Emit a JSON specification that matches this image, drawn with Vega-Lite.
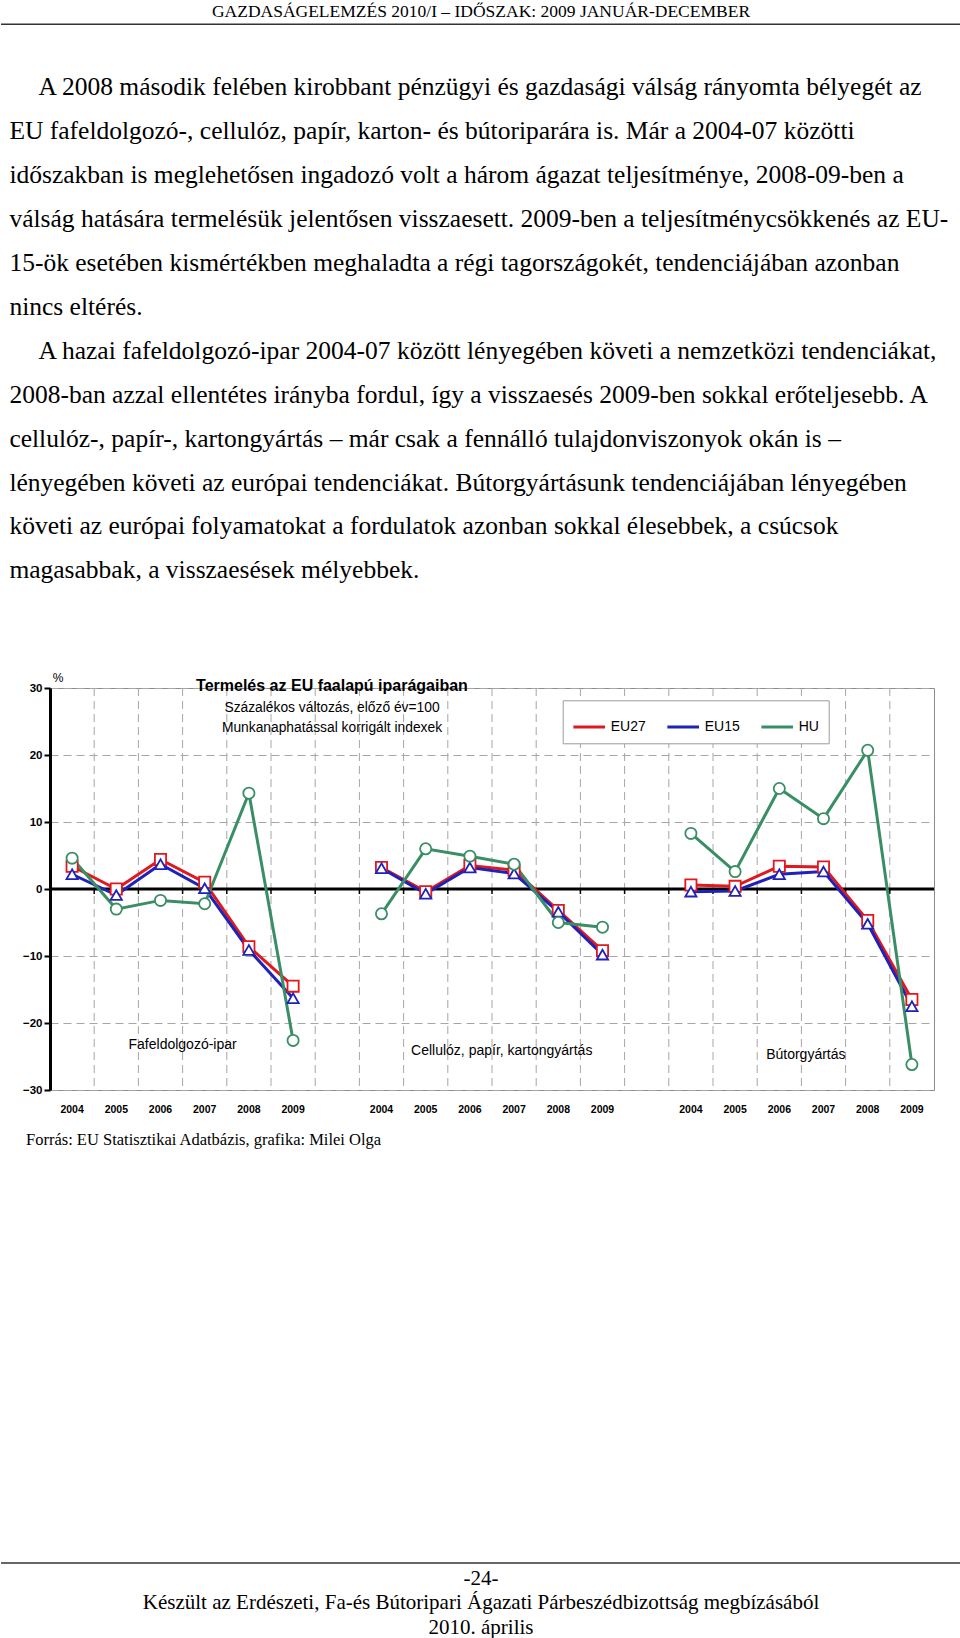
{
  "$schema": "https://vega.github.io/schema/vega-lite/v6.json",
  "padding": 0,
  "background": "white",
  "spacing": 0,
  "resolve": {"scale": {"color": "independent"}, "legend": {"color": "independent"}},
  "config": {"view": {"stroke": null}},
  "datasets": {
    "body": [
      {"line": 1, "indent": 1, "text": "A 2008 második felében kirobbant pénzügyi és gazdasági válság rányomta bélyegét az"},
      {"line": 2, "indent": 0, "text": "EU fafeldolgozó-, cellulóz, papír, karton- és bútoriparára is. Már a 2004-07 közötti"},
      {"line": 3, "indent": 0, "text": "időszakban is meglehetősen ingadozó volt a három ágazat teljesítménye, 2008-09-ben a"},
      {"line": 4, "indent": 0, "text": "válság hatására termelésük jelentősen visszaesett. 2009-ben a teljesítménycsökkenés az EU-"},
      {"line": 5, "indent": 0, "text": "15-ök esetében kismértékben meghaladta a régi tagországokét, tendenciájában azonban"},
      {"line": 6, "indent": 0, "text": "nincs eltérés."},
      {"line": 7, "indent": 1, "text": "A hazai fafeldolgozó-ipar 2004-07 között lényegében követi a nemzetközi tendenciákat,"},
      {"line": 8, "indent": 0, "text": "2008-ban azzal ellentétes irányba fordul, így a visszaesés 2009-ben sokkal erőteljesebb. A"},
      {"line": 9, "indent": 0, "text": "cellulóz-, papír-, kartongyártás – már csak a fennálló tulajdonviszonyok okán is –"},
      {"line": 10, "indent": 0, "text": "lényegében követi az európai tendenciákat. Bútorgyártásunk tendenciájában lényegében"},
      {"line": 11, "indent": 0, "text": "követi az európai folyamatokat a fordulatok azonban sokkal élesebbek, a csúcsok"},
      {"line": 12, "indent": 0, "text": "magasabbak, a visszaesések mélyebbek."}
    ],
    "footer": [
      {"line": 1, "text": "-24-"},
      {"line": 2, "text": "Készült az Erdészeti, Fa-és Bútoripari Ágazati Párbeszédbizottság megbízásából"},
      {"line": 3, "text": "2010. április"}
    ],
    "cats": [
      {"cat": "a2005"}, {"cat": "a2006"}, {"cat": "a2007"}, {"cat": "a2008"}, {"cat": "a2009"}, {"cat": "g1"},
      {"cat": "b2004"}, {"cat": "b2005"}, {"cat": "b2006"}, {"cat": "b2007"}, {"cat": "b2008"}, {"cat": "b2009"}, {"cat": "g2"},
      {"cat": "c2004"}, {"cat": "c2005"}, {"cat": "c2006"}, {"cat": "c2007"}, {"cat": "c2008"}, {"cat": "c2009"}
    ],
    "series": [
      {"grp": "a", "cat": "a2004", "series": "EU27", "value": 3.4},
      {"grp": "a", "cat": "a2005", "series": "EU27", "value": 0.0},
      {"grp": "a", "cat": "a2006", "series": "EU27", "value": 4.4},
      {"grp": "a", "cat": "a2007", "series": "EU27", "value": 1.0},
      {"grp": "a", "cat": "a2008", "series": "EU27", "value": -8.6},
      {"grp": "a", "cat": "a2009", "series": "EU27", "value": -14.5},
      {"grp": "b", "cat": "b2004", "series": "EU27", "value": 3.2},
      {"grp": "b", "cat": "b2005", "series": "EU27", "value": -0.4},
      {"grp": "b", "cat": "b2006", "series": "EU27", "value": 3.5},
      {"grp": "b", "cat": "b2007", "series": "EU27", "value": 2.8},
      {"grp": "b", "cat": "b2008", "series": "EU27", "value": -3.2},
      {"grp": "b", "cat": "b2009", "series": "EU27", "value": -9.2},
      {"grp": "c", "cat": "c2004", "series": "EU27", "value": 0.6},
      {"grp": "c", "cat": "c2005", "series": "EU27", "value": 0.4},
      {"grp": "c", "cat": "c2006", "series": "EU27", "value": 3.4},
      {"grp": "c", "cat": "c2007", "series": "EU27", "value": 3.3},
      {"grp": "c", "cat": "c2008", "series": "EU27", "value": -4.7},
      {"grp": "c", "cat": "c2009", "series": "EU27", "value": -16.5},
      {"grp": "a", "cat": "a2004", "series": "EU15", "value": 2.2},
      {"grp": "a", "cat": "a2005", "series": "EU15", "value": -0.9},
      {"grp": "a", "cat": "a2006", "series": "EU15", "value": 3.7},
      {"grp": "a", "cat": "a2007", "series": "EU15", "value": 0.1},
      {"grp": "a", "cat": "a2008", "series": "EU15", "value": -9.1},
      {"grp": "a", "cat": "a2009", "series": "EU15", "value": -16.3},
      {"grp": "b", "cat": "b2004", "series": "EU15", "value": 3.1},
      {"grp": "b", "cat": "b2005", "series": "EU15", "value": -0.7},
      {"grp": "b", "cat": "b2006", "series": "EU15", "value": 3.2},
      {"grp": "b", "cat": "b2007", "series": "EU15", "value": 2.3},
      {"grp": "b", "cat": "b2008", "series": "EU15", "value": -3.4},
      {"grp": "b", "cat": "b2009", "series": "EU15", "value": -9.8},
      {"grp": "c", "cat": "c2004", "series": "EU15", "value": -0.4},
      {"grp": "c", "cat": "c2005", "series": "EU15", "value": -0.3},
      {"grp": "c", "cat": "c2006", "series": "EU15", "value": 2.2},
      {"grp": "c", "cat": "c2007", "series": "EU15", "value": 2.6},
      {"grp": "c", "cat": "c2008", "series": "EU15", "value": -5.2},
      {"grp": "c", "cat": "c2009", "series": "EU15", "value": -17.5},
      {"grp": "a", "cat": "a2004", "series": "HU", "value": 4.6},
      {"grp": "a", "cat": "a2005", "series": "HU", "value": -3.0},
      {"grp": "a", "cat": "a2006", "series": "HU", "value": -1.7},
      {"grp": "a", "cat": "a2007", "series": "HU", "value": -2.2},
      {"grp": "a", "cat": "a2008", "series": "HU", "value": 14.3},
      {"grp": "a", "cat": "a2009", "series": "HU", "value": -22.6},
      {"grp": "b", "cat": "b2004", "series": "HU", "value": -3.7},
      {"grp": "b", "cat": "b2005", "series": "HU", "value": 6.0},
      {"grp": "b", "cat": "b2006", "series": "HU", "value": 4.9},
      {"grp": "b", "cat": "b2007", "series": "HU", "value": 3.7},
      {"grp": "b", "cat": "b2008", "series": "HU", "value": -5.0},
      {"grp": "b", "cat": "b2009", "series": "HU", "value": -5.7},
      {"grp": "c", "cat": "c2004", "series": "HU", "value": 8.3},
      {"grp": "c", "cat": "c2005", "series": "HU", "value": 2.6},
      {"grp": "c", "cat": "c2006", "series": "HU", "value": 15.0},
      {"grp": "c", "cat": "c2007", "series": "HU", "value": 10.5},
      {"grp": "c", "cat": "c2008", "series": "HU", "value": 20.7},
      {"grp": "c", "cat": "c2009", "series": "HU", "value": -26.2}
    ]
  },
  "vconcat": [
    {
      "width": 911,
      "height": 671,
      "layer": [
        {
          "data": {"values": [{"t": "GAZDASÁGELEMZÉS 2010/I – IDŐSZAK: 2009 JANUÁR-DECEMBER"}]},
          "mark": {"type": "text", "font": "Liberation Serif", "fontSize": 17.5, "align": "center", "baseline": "alphabetic", "color": "#000"},
          "encoding": {
            "x": {"datum": 0.4731, "type": "quantitative", "scale": {"domain": [0, 1]}, "axis": null},
            "y": {"datum": -0.768, "type": "quantitative", "scale": {"domain": [-1.1615, 14.106], "reverse": true, "nice": false, "zero": false}, "axis": null},
            "text": {"field": "t"}
          }
        },
        {
          "data": {"values": [{"k": 1}]},
          "mark": {"type": "rule", "color": "#333", "strokeWidth": 1.5},
          "encoding": {
            "x": {"datum": -0.05379, "type": "quantitative", "axis": null},
            "x2": {"datum": 1.0},
            "y": {"datum": -0.6086, "type": "quantitative", "axis": null}
          }
        },
        {
          "data": {"name": "body"},
          "transform": [{"filter": "datum.indent == 1"}],
          "mark": {"type": "text", "font": "Liberation Serif", "fontSize": 25.5, "align": "left", "baseline": "alphabetic", "color": "#000"},
          "encoding": {
            "x": {"datum": -0.01251, "type": "quantitative", "axis": null},
            "y": {"field": "line", "type": "quantitative", "axis": null},
            "text": {"field": "text"}
          }
        },
        {
          "data": {"name": "body"},
          "transform": [{"filter": "datum.indent == 0"}],
          "mark": {"type": "text", "font": "Liberation Serif", "fontSize": 25.5, "align": "left", "baseline": "alphabetic", "color": "#000"},
          "encoding": {
            "x": {"datum": -0.04457, "type": "quantitative", "axis": null},
            "y": {"field": "line", "type": "quantitative", "axis": null},
            "text": {"field": "text"}
          }
        }
      ]
    },
    {
      "width": 884,
      "height": 402,
      "view": {"stroke": "#8c8c8c", "strokeWidth": 1},
      "layer": [
        {
          "data": {"name": "cats"},
          "mark": {"type": "rule", "color": "#a6a6a6", "strokeWidth": 1, "strokeDash": [8, 5]},
          "encoding": {
            "x": {
              "field": "cat", "type": "nominal", "bandPosition": 0,
              "scale": {"type": "band", "domain": ["a2004","a2005","a2006","a2007","a2008","a2009","g1","b2004","b2005","b2006","b2007","b2008","b2009","g2","c2004","c2005","c2006","c2007","c2008","c2009"], "paddingInner": 0, "paddingOuter": 0},
              "axis": {"orient": "bottom", "title": null, "labelExpr": "length(datum.value) == 5 ? slice(datum.value, 1) : ''", "labelAngle": 0, "labelFont": "Liberation Sans", "labelFontSize": 10.5, "labelFontWeight": "bold", "labelColor": "#000", "labelPadding": 14, "ticks": false, "domain": false, "grid": false, "minExtent": 30, "maxExtent": 30}
            }
          }
        },
        {
          "data": {"name": "cats"},
          "mark": {"type": "rule", "color": "#000", "strokeWidth": 1.5},
          "encoding": {
            "x": {"field": "cat", "type": "nominal", "bandPosition": 0},
            "y": {"datum": 0, "type": "quantitative"},
            "y2": {"datum": -0.75}
          }
        },
        {
          "data": {"values": [{"k": 0}]},
          "mark": {"type": "rule", "color": "#000", "strokeWidth": 3},
          "encoding": {
            "y": {
              "datum": 0, "type": "quantitative",
              "scale": {"domain": [-30, 30], "nice": false, "zero": false},
              "axis": {"orient": "left", "values": [-30, -20, -10, 0, 10, 20, 30], "title": null, "labelFont": "Liberation Sans", "labelFontSize": 11.5, "labelFontWeight": "bold", "labelColor": "#000", "labelPadding": 2, "tickColor": "#000", "tickSize": 6, "tickWidth": 2, "domainColor": "#000", "domainWidth": 3, "grid": true, "gridColor": "#a6a6a6", "gridDash": [8, 5], "gridWidth": 1, "minExtent": 49}
            }
          }
        },
        {
          "data": {"name": "series"},
          "mark": {"type": "line", "strokeWidth": 3},
          "encoding": {
            "x": {"field": "cat", "type": "nominal"},
            "y": {"field": "value", "type": "quantitative"},
            "color": {
              "field": "series", "type": "nominal",
              "scale": {"domain": ["EU27", "EU15", "HU"], "range": ["#e0191e", "#1f22b8", "#3a8e66"]},
              "legend": {"title": null, "orient": "none", "legendX": 512.7, "legendY": 12.3, "direction": "horizontal", "fillColor": "white", "strokeColor": "#9a9a9a", "padding": 9, "symbolType": "stroke", "symbolSize": 1000, "symbolStrokeWidth": 3, "labelFont": "Liberation Sans", "labelFontSize": 14, "labelColor": "#000", "labelOffset": 4, "columnPadding": 14}
            },
            "detail": {"field": "grp"}
          }
        },
        {
          "data": {"name": "series"},
          "mark": {"type": "point", "filled": true, "fill": "white", "size": 125, "strokeWidth": 1.8, "opacity": 1},
          "encoding": {
            "x": {"field": "cat", "type": "nominal"},
            "y": {"field": "value", "type": "quantitative"},
            "stroke": {"field": "series", "type": "nominal", "scale": {"domain": ["EU27", "EU15", "HU"], "range": ["#e0191e", "#1f22b8", "#3a8e66"]}, "legend": null},
            "shape": {"field": "series", "type": "nominal", "scale": {"domain": ["EU27", "EU15", "HU"], "range": ["square", "triangle-up", "circle"]}, "legend": null}
          }
        },
        {
          "data": {"values": [{"t": "%", "cat": "a2004"}]},
          "mark": {"type": "text", "font": "Liberation Sans", "fontSize": 12, "align": "center", "baseline": "alphabetic", "color": "#000", "dx": 8},
          "encoding": {
            "x": {"field": "cat", "type": "nominal", "bandPosition": 0},
            "y": {"datum": 30.9, "type": "quantitative"},
            "text": {"field": "t"}
          }
        },
        {
          "data": {"values": [{"t": "Termelés az EU faalapú iparágaiban", "cat": "g1"}]},
          "mark": {"type": "text", "font": "Liberation Sans", "fontSize": 16, "fontWeight": "bold", "align": "center", "baseline": "alphabetic", "color": "#000"},
          "encoding": {
            "x": {"field": "cat", "type": "nominal", "bandPosition": 0.38},
            "y": {"datum": 29.6, "type": "quantitative"},
            "text": {"field": "t"}
          }
        },
        {
          "data": {"values": [{"t": "Százalékos változás, előző év=100", "cat": "g1"}]},
          "mark": {"type": "text", "font": "Liberation Sans", "fontSize": 13.8, "align": "center", "baseline": "alphabetic", "color": "#000"},
          "encoding": {
            "x": {"field": "cat", "type": "nominal", "bandPosition": 0.38},
            "y": {"datum": 26.36, "type": "quantitative"},
            "text": {"field": "t"}
          }
        },
        {
          "data": {"values": [{"t": "Munkanaphatással korrigált indexek", "cat": "g1"}]},
          "mark": {"type": "text", "font": "Liberation Sans", "fontSize": 13.8, "align": "center", "baseline": "alphabetic", "color": "#000"},
          "encoding": {
            "x": {"field": "cat", "type": "nominal", "bandPosition": 0.38},
            "y": {"datum": 23.37, "type": "quantitative"},
            "text": {"field": "t"}
          }
        },
        {
          "data": {"values": [{"sector": "Fafeldolgozó-ipar", "cat": "a2006"}]},
          "mark": {"type": "text", "font": "Liberation Sans", "fontSize": 14, "align": "center", "baseline": "alphabetic", "color": "#000"},
          "encoding": {
            "x": {"field": "cat", "type": "nominal", "bandPosition": 1},
            "y": {"datum": -23.9, "type": "quantitative"},
            "text": {"field": "sector"}
          }
        },
        {
          "data": {"values": [{"sector": "Cellulóz, papír, kartongyártás", "cat": "b2007"}]},
          "mark": {"type": "text", "font": "Liberation Sans", "fontSize": 14, "align": "center", "baseline": "alphabetic", "color": "#000"},
          "encoding": {
            "x": {"field": "cat", "type": "nominal", "bandPosition": 0.22},
            "y": {"datum": -24.8, "type": "quantitative"},
            "text": {"field": "sector"}
          }
        },
        {
          "data": {"values": [{"sector": "Bútorgyártás", "cat": "c2007"}]},
          "mark": {"type": "text", "font": "Liberation Sans", "fontSize": 14, "align": "center", "baseline": "alphabetic", "color": "#000"},
          "encoding": {
            "x": {"field": "cat", "type": "nominal", "bandPosition": 0.1},
            "y": {"datum": -25.3, "type": "quantitative"},
            "text": {"field": "sector"}
          }
        }
      ]
    },
    {
      "width": 911,
      "height": 519,
      "layer": [
        {
          "data": {"values": [{"t": "Forrás: EU Statisztikai Adatbázis, grafika: Milei Olga"}]},
          "mark": {"type": "text", "font": "Liberation Serif", "fontSize": 16.5, "align": "left", "baseline": "alphabetic", "color": "#000"},
          "encoding": {
            "x": {"datum": -0.02634, "type": "quantitative", "scale": {"domain": [0, 1]}, "axis": null},
            "y": {"datum": -16.959, "type": "quantitative", "scale": {"domain": [-17.939, 3.245], "reverse": true, "nice": false, "zero": false}, "axis": null},
            "text": {"field": "t"}
          }
        },
        {
          "data": {"values": [{"k": 1}]},
          "mark": {"type": "rule", "color": "#333", "strokeWidth": 1.5},
          "encoding": {
            "x": {"datum": -0.05379, "type": "quantitative", "axis": null},
            "x2": {"datum": 1.0},
            "y": {"datum": 0.1018, "type": "quantitative", "axis": null}
          }
        },
        {
          "data": {"name": "footer"},
          "mark": {"type": "text", "font": "Liberation Serif", "fontSize": 21, "align": "center", "baseline": "alphabetic", "color": "#000"},
          "encoding": {
            "x": {"datum": 0.4731, "type": "quantitative", "axis": null},
            "y": {"field": "line", "type": "quantitative", "axis": null},
            "text": {"field": "text"}
          }
        }
      ]
    }
  ]
}
